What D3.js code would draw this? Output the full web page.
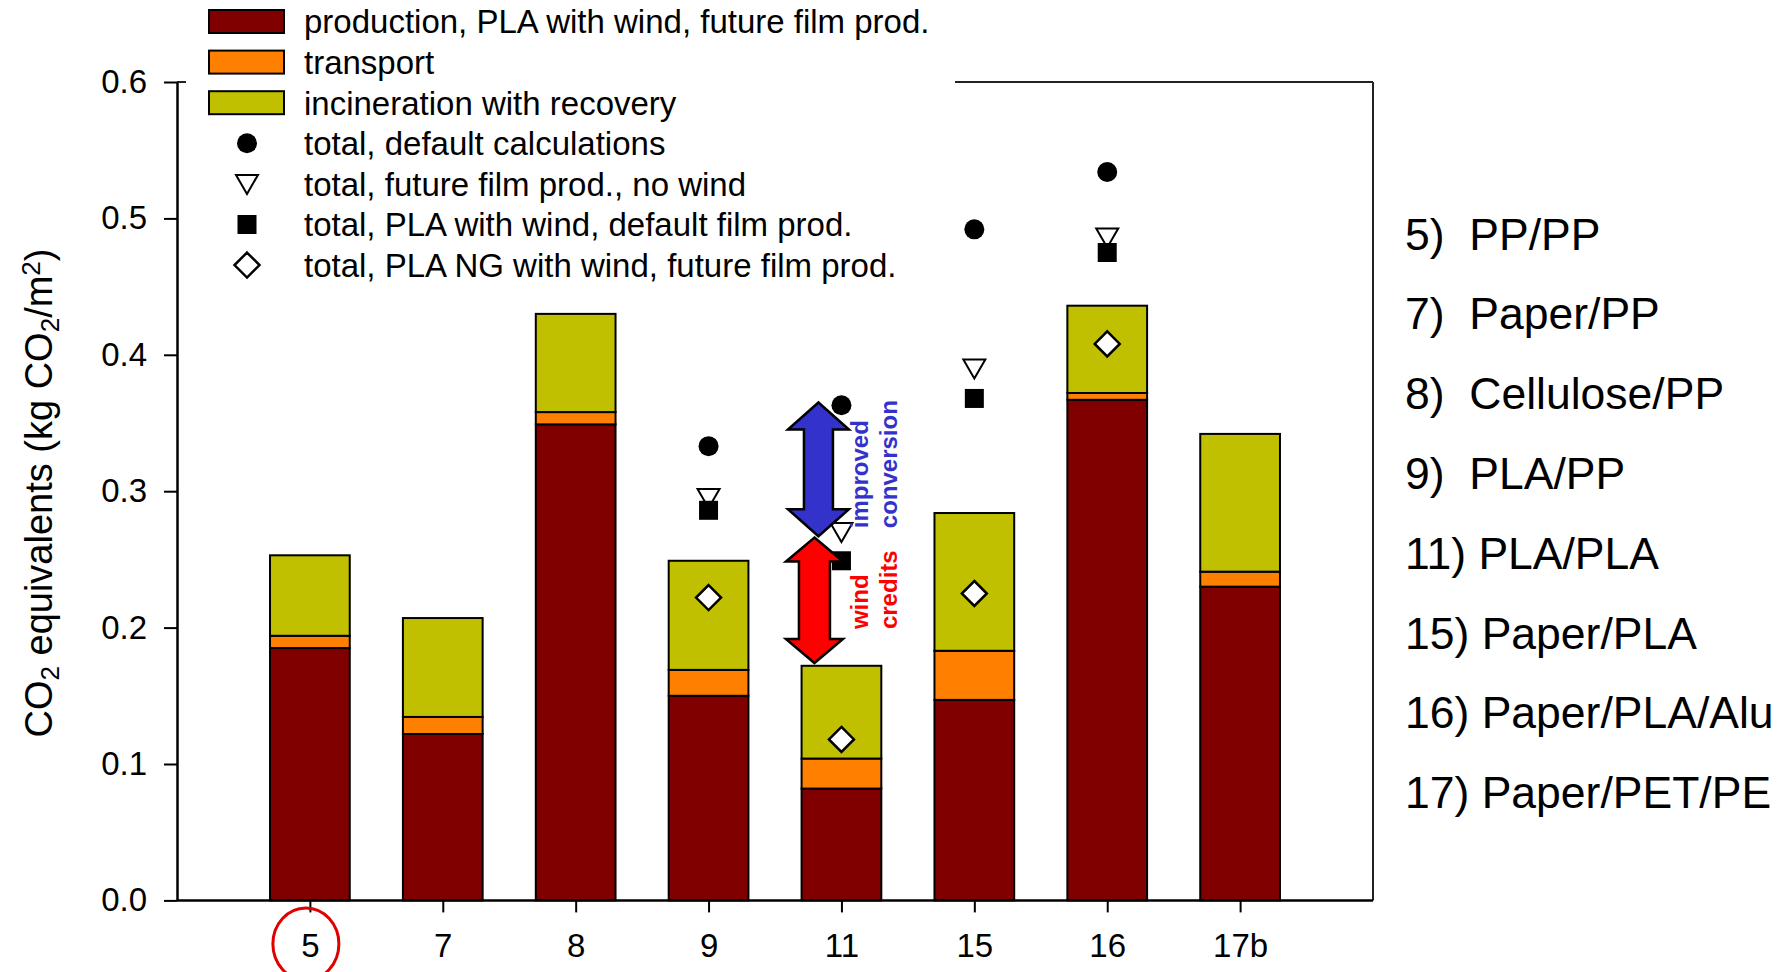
<!DOCTYPE html>
<html>
<head>
<meta charset="utf-8">
<script src="https://cdn.jsdelivr.net/npm/d3@7"></script>
<style>
  html, body { margin: 0; padding: 0; background: #fff; }
  svg { display: block; font-family: "Liberation Sans", Arial, sans-serif; }
</style>
</head>
<body>
<svg id="chart" width="1787" height="972"></svg>
<script>
// ---------- data ----------
const categories = ["5", "7", "8", "9", "11", "15", "16", "17b"];
const production   = [0.185, 0.122, 0.349, 0.150, 0.082, 0.147, 0.367, 0.230];
const transport    = [0.009, 0.0125, 0.009, 0.019, 0.022, 0.036, 0.005, 0.011];
const incineration = [0.059, 0.0725, 0.072, 0.080, 0.068, 0.101, 0.064, 0.101];

const pointCats      = ["9", "11", "15", "16"];
const totalDefault   = [0.333, 0.363, 0.492, 0.534];
const totalNoWind    = [0.295, 0.270, 0.390, 0.486];
const totalDefFilm   = [0.286, 0.249, 0.368, 0.475];
const totalNG        = [0.222, 0.118, 0.225, 0.408];

const yTicks = [0, 0.1, 0.2, 0.3, 0.4, 0.5, 0.6];

const seriesNames = ["production, PLA with wind, future film prod.", "transport", "incineration with recovery"];
const markerNames = ["total, default calculations", "total, future film prod., no wind",
                     "total, PLA with wind, default film prod.", "total, PLA NG with wind, future film prod."];

const sideLabels = ["5)  PP/PP", "7)  Paper/PP", "8)  Cellulose/PP", "9)  PLA/PP",
                    "11) PLA/PLA", "15) Paper/PLA", "16) Paper/PLA/Alu", "17) Paper/PET/PE"];

// annotation arrows on category 11: [top value, bottom value]
const arrowCat = "11";
const arrowImproved = [0.365, 0.267];
const arrowWind     = [0.266, 0.174];
const arrowTexts = [["improved", "conversion"], ["wind", "credits"]];

// ---------- layout ----------
const svg = d3.select("#chart");
const L = 177, R = 1373, T = 82, B = 900.4;
const colors = ["#800000", "#FF8000", "#C0C000"];

const x = d3.scalePoint().domain(categories).range([L, R]).padding(1);
const y = d3.scaleLinear().domain([0, 0.6]).range([B, T]);
const barW = x.step() * 0.6;

// stacked data
const rows = categories.map((c, i) => ({cat: c, production: production[i], transport: transport[i], incineration: incineration[i]}));
const stack = d3.stack().keys(["production", "transport", "incineration"])(rows);

// frame (top and right)
svg.append("line").attr("x1", L).attr("x2", R).attr("y1", T).attr("y2", T)
  .attr("stroke", "#222").attr("stroke-width", 2);
svg.append("line").attr("x1", R).attr("x2", R).attr("y1", T).attr("y2", B)
  .attr("stroke", "#222").attr("stroke-width", 2);

// bars
stack.forEach((s, k) => {
  svg.append("g").selectAll("rect").data(s).join("rect")
    .attr("x", d => x(d.data.cat) - barW / 2)
    .attr("width", barW)
    .attr("y", d => y(d[1]))
    .attr("height", d => y(d[0]) - y(d[1]))
    .attr("fill", colors[k])
    .attr("stroke", "#000")
    .attr("stroke-width", 2);
});

// axes
const yAxis = svg.append("g").attr("transform", `translate(${L},0)`)
  .call(d3.axisLeft(y).tickValues(yTicks).tickFormat(d3.format(".1f")).tickSize(13).tickSizeOuter(0).tickPadding(17));
const xAxis = svg.append("g").attr("transform", `translate(0,${B})`)
  .call(d3.axisBottom(x).tickSize(12).tickSizeOuter(0).tickPadding(21));
[yAxis, xAxis].forEach(a => {
  a.select(".domain").attr("stroke", "#000").attr("stroke-width", 2.5);
  a.selectAll(".tick line").attr("stroke", "#000").attr("stroke-width", 2);
  a.selectAll(".tick text").attr("font-size", 33).attr("fill", "#000")
    .attr("font-family", "'Liberation Sans', Arial, sans-serif");
});
xAxis.select(".domain").attr("d", `M${L},0H${R}`);

// markers
const markerShapes = {
  circle: g => g.append("circle").attr("r", 10).attr("fill", "#000"),
  tri: g => g.append("path").attr("d", "M-11,-9L11,-9L0,10Z").attr("fill", "#fff").attr("stroke", "#000").attr("stroke-width", 2),
  square: g => g.append("rect").attr("x", -9.5).attr("y", -9.5).attr("width", 19).attr("height", 19).attr("fill", "#000"),
  diamond: g => g.append("path").attr("d", "M0,-12.5L12.5,0L0,12.5L-12.5,0Z").attr("fill", "#fff").attr("stroke", "#000").attr("stroke-width", 2.5)
};
const markerSeries = [[totalDefault, "circle"], [totalNoWind, "tri"], [totalDefFilm, "square"], [totalNG, "diamond"]];
markerSeries.forEach(([vals, shape]) => {
  pointCats.forEach((c, i) => {
    const g = svg.append("g").attr("transform", `translate(${x(c)},${y(vals[i])})`);
    markerShapes[shape](g);
  });
});

// arrows
function dblArrow(cx, v0, v1, headHalf, shaftHalf, headH, fill) {
  const y0 = y(v0), y1 = y(v1);
  const p = [
    [cx, y0], [cx + headHalf, y0 + headH], [cx + shaftHalf, y0 + headH],
    [cx + shaftHalf, y1 - headH], [cx + headHalf, y1 - headH], [cx, y1],
    [cx - headHalf, y1 - headH], [cx - shaftHalf, y1 - headH],
    [cx - shaftHalf, y0 + headH], [cx - headHalf, y0 + headH]
  ];
  svg.append("path").attr("d", "M" + p.map(q => q.join(",")).join("L") + "Z")
    .attr("fill", fill).attr("stroke", "#000").attr("stroke-width", 2.5).attr("stroke-linejoin", "miter");
}
const ax = x(arrowCat);
dblArrow(ax - 23, arrowImproved[0], arrowImproved[1], 30.5, 14.5, 27, "#3333CC");
dblArrow(ax - 27, arrowWind[0], arrowWind[1], 28.5, 15.5, 24, "#FF0000");

function rotText(tx, ty, str, col) {
  svg.append("text").attr("transform", `translate(${tx},${ty}) rotate(-90)`)
    .attr("font-size", 24).attr("font-weight", "bold").attr("fill", col)
    .attr("text-anchor", "start").text(str);
}
rotText(ax + 27, y(arrowImproved[1]) - 8, arrowTexts[0][0], "#3333CC");
rotText(ax + 56, y(arrowImproved[1]) - 8, arrowTexts[0][1], "#3333CC");
rotText(ax + 27, y(arrowWind[1]) - 34, arrowTexts[1][0], "#FF0000");
rotText(ax + 56, y(arrowWind[1]) - 34, arrowTexts[1][1], "#FF0000");

// legend (white background hides top frame)
const lg = svg.append("g");
lg.append("rect").attr("x", 186).attr("y", 0).attr("width", 769).attr("height", 285).attr("fill", "#fff");
const rowY = i => 21.5 + i * 40.6;
seriesNames.forEach((n, i) => {
  lg.append("rect").attr("x", 209).attr("y", rowY(i) - 11.5).attr("width", 75).attr("height", 23)
    .attr("fill", colors[i]).attr("stroke", "#000").attr("stroke-width", 2);
  lg.append("text").attr("x", 304).attr("y", rowY(i)).attr("dy", "0.36em").attr("font-size", 33).text(n);
});
["circle", "tri", "square", "diamond"].forEach((s, j) => {
  const i = j + 3;
  const g = lg.append("g").attr("transform", `translate(247,${rowY(i)})`);
  markerShapes[s](g);
  lg.append("text").attr("x", 304).attr("y", rowY(i)).attr("dy", "0.36em").attr("font-size", 33).text(markerNames[j]);
});

// y-axis title
const yt = svg.append("text").attr("transform", "translate(52,493) rotate(-90)")
  .attr("text-anchor", "middle").attr("font-size", 38);
yt.append("tspan").text("CO");
yt.append("tspan").attr("font-size", 26).attr("baseline-shift", "-25%").text("2");
yt.append("tspan").text(" equivalents (kg CO");
yt.append("tspan").attr("font-size", 26).attr("baseline-shift", "-25%").text("2");
yt.append("tspan").text("/m");
yt.append("tspan").attr("font-size", 26).attr("baseline-shift", "45%").text("2");
yt.append("tspan").text(")");

// side labels
svg.append("g").selectAll("text").data(sideLabels).join("text")
  .attr("x", 1405).attr("y", (d, i) => 233.6 + i * 79.8).attr("dy", "0.36em")
  .attr("font-size", 44.5).style("white-space", "pre").attr("xml:space", "preserve")
  .text(d => d);

// red ellipse around "5"
svg.append("ellipse").attr("cx", x("5") - 4).attr("cy", 944).attr("rx", 33).attr("ry", 36)
  .attr("fill", "none").attr("stroke", "#E00000").attr("stroke-width", 3);
</script>
</body>
</html>
